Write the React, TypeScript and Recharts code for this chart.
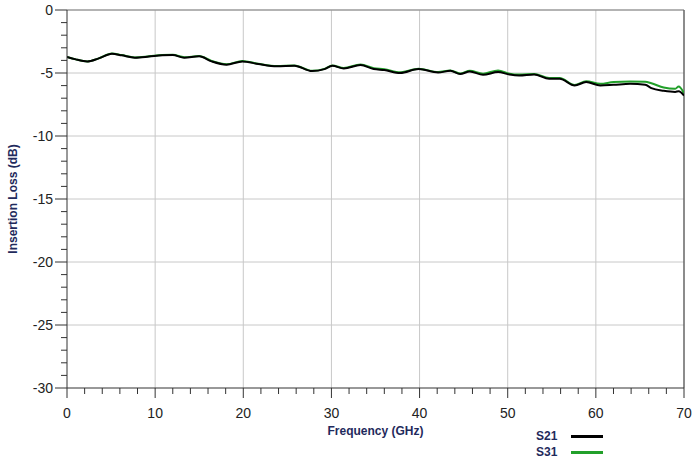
import { LineChart, Line, XAxis, YAxis, ReferenceLine, Legend } from 'recharts'

const FREQ = [
  0, 1, 2.3, 3.6, 5.1, 6.2, 7.7, 9.3, 10.8, 12, 13.3, 15, 16.4, 18.1, 19.9, 21.7, 23.8, 25.8,
  27.8, 29.2, 30.1, 31.4, 33.3, 34.8, 36, 37.8, 39.9, 42.1, 43.5, 44.6, 45.7, 47.2, 48.9, 50.2,
  51.3, 53, 54.7, 55.9, 57.6, 58.9, 60.5, 62, 63.9, 65.6, 66.3, 67.7, 69, 69.4, 70,
]
const S21 = [
  -3.72, -3.92, -4.08, -3.84, -3.47, -3.6, -3.78, -3.7, -3.6, -3.58, -3.78, -3.68, -4.08, -4.34,
  -4.08, -4.29, -4.47, -4.42, -4.85, -4.69, -4.42, -4.64, -4.37, -4.69, -4.77, -5.0, -4.69, -4.96,
  -4.82, -5.08, -4.88, -5.14, -4.93, -5.12, -5.19, -5.11, -5.46, -5.46, -5.99, -5.72, -5.99, -5.94,
  -5.86, -5.94, -6.2, -6.41, -6.5, -6.45, -6.79,
]
const S31 = [
  -3.72, -3.92, -4.08, -3.84, -3.45, -3.58, -3.76, -3.68, -3.58, -3.56, -3.75, -3.65, -4.04, -4.3,
  -4.05, -4.27, -4.45, -4.4, -4.82, -4.67, -4.4, -4.6, -4.33, -4.62, -4.7, -4.95, -4.66, -4.92,
  -4.8, -5.04, -4.83, -5.05, -4.8, -5.05, -5.12, -5.07, -5.4, -5.4, -5.95, -5.66, -5.86, -5.72,
  -5.68, -5.7, -5.82, -6.15, -6.25, -6.07, -6.6,
]
const X_TICKS = Array.from({ length: 36 }, (_, i) => i * 2)
const Y_TICKS = Array.from({ length: 31 }, (_, i) => -30 + i)
const X_GRID = [10, 20, 30, 40, 50, 60]
const Y_GRID = [-5, -10, -15, -20, -25]

const data = FREQ.map((f, i) => ({ f, s21: S21[i], s31: S31[i] }))

const NAVY = '#1f2a5c'
const FONT = '"Liberation Sans", Arial, sans-serif'

function XTick({ x, y, payload }: any) {
  const major = payload.value % 10 === 0
  return (
    <g>
      <line x1={x} x2={x} y1={y} y2={y + (major ? 10 : 6)} stroke="#333" />
      {major && (
        <text x={x} y={y + 30} textAnchor="middle" fontSize={14} fill="#222" fontFamily={FONT}>
          {payload.value}
        </text>
      )}
    </g>
  )
}

function YTick({ x, y, payload }: any) {
  const major = payload.value % 5 === 0
  return (
    <g>
      <line x1={x - (major ? 12 : 6)} x2={x} y1={y} y2={y} stroke="#333" />
      {major && (
        <text x={x - 14} y={y + 5} textAnchor="end" fontSize={14} fill="#222" fontFamily={FONT}>
          {payload.value}
        </text>
      )}
    </g>
  )
}

function LegendBox() {
  const rows = [
    { name: 'S21', color: '#000000' },
    { name: 'S31', color: '#22a02a' },
  ]
  return (
    <div style={{ position: 'absolute', left: 536, top: 428, fontFamily: FONT }}>
      {rows.map((r) => (
        <div key={r.name} style={{ display: 'flex', alignItems: 'center', height: 16 }}>
          <span style={{ fontSize: 12, fontWeight: 'bold', color: NAVY, width: 35 }}>{r.name}</span>
          <span style={{ display: 'inline-block', width: 32, height: 3, background: r.color }} />
        </div>
      ))}
    </div>
  )
}

export default function App() {
  return (
    <div style={{ position: 'absolute', left: 0, top: 0, width: 692, height: 459, background: '#fff' }}>
      <LineChart width={692} height={459} data={data} margin={{ top: 10, right: 8, bottom: 0, left: 0 }}>
        {X_GRID.map((v) => (
          <ReferenceLine key={'x' + v} x={v} stroke="#c8c8c8" strokeWidth={1} />
        ))}
        {Y_GRID.map((v) => (
          <ReferenceLine key={'y' + v} y={v} stroke="#c8c8c8" strokeWidth={1} />
        ))}
        <ReferenceLine y={0} stroke="#9a9a9a" strokeWidth={1.5} />
        <ReferenceLine x={70} stroke="#666" strokeWidth={1.5} />
        <XAxis
          dataKey="f"
          type="number"
          domain={[0, 70]}
          ticks={X_TICKS}
          interval={0}
          allowDataOverflow
          height={71}
          tickLine={false}
          tickSize={0}
          tickMargin={0}
          stroke="#333"
          tick={<XTick />}
          label={{
            value: 'Frequency (GHz)',
            position: 'insideTop',
            offset: 38,
            fontSize: 12,
            fontWeight: 'bold',
            fill: NAVY,
            fontFamily: FONT,
          }}
        />
        <YAxis
          type="number"
          domain={[-30, 0]}
          ticks={Y_TICKS}
          interval={0}
          allowDataOverflow
          width={67}
          tickLine={false}
          tickSize={0}
          tickMargin={0}
          stroke="#333"
          tick={<YTick />}
          label={{
            value: 'Insertion Loss (dB)',
            angle: -90,
            position: 'insideLeft',
            offset: 13,
            style: { textAnchor: 'middle' },
            fontSize: 12,
            fontWeight: 'bold',
            fill: NAVY,
            fontFamily: FONT,
          }}
        />
        <Line
          dataKey="s31"
          name="S31"
          type="monotone"
          stroke="#22a02a"
          strokeWidth={2}
          dot={false}
          isAnimationActive={false}
        />
        <Line
          dataKey="s21"
          name="S21"
          type="monotone"
          stroke="#000000"
          strokeWidth={2}
          dot={false}
          isAnimationActive={false}
        />
        <Legend content={() => null} />
      </LineChart>
      <LegendBox />
    </div>
  )
}
